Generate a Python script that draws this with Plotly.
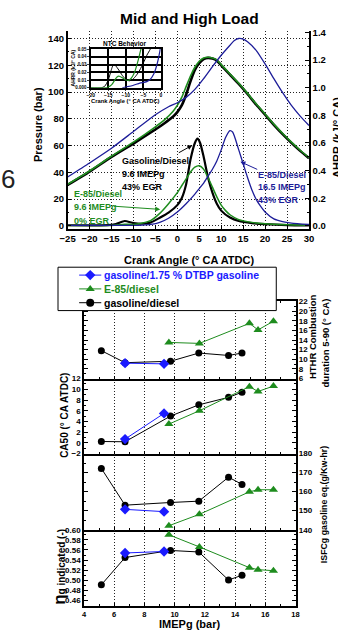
import plotly.graph_objects as go

W, H = 338, 635
def px(x): return x / W
def py(y): return 1 - y / H

FONT = "Liberation Sans, Arial, Helvetica, sans-serif"
C_BLACK = "#000000"
C_GREEN = "#1e8c1e"
C_NAVY = "#1d1d99"
C_BLUE = "#1a1aff"
GRID = "#222222"

# ---------------- top chart: crank-angle resolved data ----------------
crank_ticks = [-25, -20, -15, -10, -5, 0, 5, 10, 15, 20, 25, 30]
press_ticks = [0, 20, 40, 60, 80, 100, 120, 140]
ahrr_ticks = [0.0, 0.2, 0.4, 0.6, 0.8, 1.0, 1.2, 1.4]

p_gd_ca = [-25, -20, -15, -10, -5, -3, -1, 0, 1, 2, 3, 4, 5, 6, 7, 8, 9, 10, 12, 14, 16, 18, 20, 22, 24, 26, 28, 30]
p_gd = [30.5, 40.5, 51.5, 61.5, 72, 76.5, 81.5, 85, 90, 98, 108, 116.5, 121.5, 124.5, 125.5, 125, 123.5, 120, 113, 106, 98.5, 90.5, 83, 75.5, 68.5, 62, 56, 50.5]

p_e85_ca = [-25, -20, -15, -10, -5, -3, -1, 0, 1, 2, 3, 4, 5, 6, 7, 8, 9, 10, 12, 14, 16, 18, 20, 22, 24, 26, 28, 30]
p_e85 = [31, 41, 52, 62.5, 74, 79, 85.5, 90, 96, 104, 112, 118.5, 123, 125.5, 126, 125.5, 124, 120.5, 113.5, 106.5, 99, 91, 83.5, 76, 69, 62.5, 56.5, 51]

p_e85h_ca = [-25, -20, -15, -10, -5, -2, 0, 2, 4, 6, 8, 10, 12, 13, 14, 15, 16, 18, 20, 22, 24, 26, 28, 30]
p_e85h = [36.5, 47, 58, 70.5, 83, 89, 92, 96, 102, 110, 119, 127.5, 135, 138.5, 140, 139.5, 137.5, 131, 121, 110, 99.5, 90, 82, 75]

a_gd_ca = [-25, -16, -14, -12, -10, -8, -6, -4, -2, 0, 1, 2, 3, 4, 4.6, 5.2, 6, 7, 8, 9, 10, 12, 14, 17, 20, 25, 30]
a_gd = [0.004, 0.005, 0.013, 0.035, 0.02, 0.015, 0.025, 0.058, 0.095, 0.15, 0.2, 0.3, 0.48, 0.6, 0.632, 0.6, 0.5, 0.35, 0.24, 0.16, 0.11, 0.06, 0.035, 0.02, 0.012, 0.005, 0.003]

a_e85_ca = [-25, -15, -12, -10, -8, -6, -4, -2, 0, 1, 2, 3, 4, 5, 6, 7, 8, 9, 10, 11, 12, 14, 17, 20, 25, 30]
a_e85 = [0.003, 0.003, 0.012, 0.009, 0.02, 0.04, 0.09, 0.16, 0.24, 0.29, 0.34, 0.39, 0.425, 0.435, 0.41, 0.35, 0.28, 0.21, 0.15, 0.11, 0.08, 0.045, 0.025, 0.015, 0.008, 0.005]

a_e85h_ca = [-25, -10, -8, -6, -4, -2, 0, 2, 4, 5, 6, 7, 8, 9, 10, 11, 12, 12.6, 13, 14, 15, 16, 17, 18, 19, 20, 22, 24, 26, 30]
a_e85h = [0.003, 0.003, 0.005, 0.01, 0.025, 0.055, 0.1, 0.16, 0.23, 0.27, 0.31, 0.36, 0.41, 0.47, 0.55, 0.64, 0.69, 0.68, 0.65, 0.55, 0.45, 0.35, 0.26, 0.19, 0.14, 0.1, 0.05, 0.03, 0.02, 0.01]

# inset (NTC region)
in_ca_ticks = [-20, -15, -10, -5, 0]
in_y_ticks = [0.0, 0.01, 0.02, 0.03, 0.04, 0.05]
in_y_text = ["0.000", "0.01", "0.02", "0.03", "0.04", "0.05"]
in_gd_ca = [-20, -17, -16, -15, -14, -13.5, -13, -12, -11, -10, -9, -8, -7, -6, -5, -4, -3, -2.5]
in_gd = [0, 0, 0.002, 0.01, 0.025, 0.03, 0.029, 0.023, 0.016, 0.011, 0.009, 0.011, 0.016, 0.023, 0.032, 0.042, 0.05, 0.056]
in_e85_ca = [-20, -16, -15, -14, -13, -12.5, -12, -11, -10, -9.3, -8.5, -7.5, -6.5, -5.8, -5.3]
in_e85 = [0, 0, 0.001, 0.004, 0.011, 0.014, 0.015, 0.013, 0.01, 0.0095, 0.012, 0.02, 0.035, 0.048, 0.056]
in_e85h_ca = [-11, -10, -8, -6, -4, -3, -2, -1, -0.3, 0]
in_e85h = [0, 0.001, 0.003, 0.006, 0.008, 0.011, 0.018, 0.032, 0.047, 0.055]

# ---------------- bottom chart: load sweep ----------------
imep_ticks = [4, 6, 8, 10, 12, 14, 16, 18]
imep_gd = [5.15, 6.72, 9.73, 11.6, 13.57, 14.46]
imep_dtbp = [6.72, 9.3]
imep_e85 = [9.62, 11.64, 14.95, 15.52, 16.54]

dur_gd = [11.8, 9.3, 9.6, 11.3, 10.8, 11.3]
dur_dtbp = [9.2, 9.06]
dur_e85 = [13.5, 13.3, 17.45, 16.1, 17.9]

ca50_gd = [0.25, 0.2, 5.0, 7.1, 8.5, 9.45]
ca50_dtbp = [0.7, 5.5]
ca50_e85 = [3.5, 6.0, 10.5, 9.6, 10.6]

isfc_gd = [172.2, 152.9, 154.3, 155.0, 167.6, 163.8]
isfc_dtbp = [150.7, 149.5]
isfc_e85 = [142.1, 148.1, 159.9, 161.0, 161.0]

eta_gd = [0.491, 0.545, 0.559, 0.556, 0.5005, 0.510]
eta_dtbp = [0.554, 0.557]
eta_e85 = [0.590, 0.566, 0.525, 0.521, 0.519]

legend_labels = ["gasoline/1.75 % DTBP gasoline", "E-85/diesel", "gasoline/diesel"]
legend_colors = [C_BLUE, C_GREEN, C_BLACK]
legend_symbols = ["diamond", "triangle-up", "circle"]

fig = go.Figure()

def line(x, y, color, width, xa="x", ya="y"):
    fig.add_trace(go.Scatter(x=x, y=y, mode="lines", xaxis=xa, yaxis=ya,
                             line=dict(color=color, width=width, shape="spline", smoothing=0.6),
                             hoverinfo="skip", showlegend=False))

line(p_gd_ca, p_gd, C_BLACK, 2.6)
line(p_e85_ca, p_e85, C_GREEN, 1.6)
line(p_e85h_ca, p_e85h, C_NAVY, 1.3)
line(a_gd_ca, a_gd, C_BLACK, 2.2, ya="y2")
line(a_e85_ca, a_e85, C_GREEN, 1.5, ya="y2")
line(a_e85h_ca, a_e85h, C_NAVY, 1.3, ya="y2")

line(in_gd_ca, in_gd, C_BLACK, 1.0, xa="x3", ya="y3")
line(in_e85_ca, in_e85, C_GREEN, 1.2, xa="x3", ya="y3")
line(in_e85h_ca, in_e85h, C_NAVY, 1.2, xa="x3", ya="y3")

series = [
    (imep_gd, [dur_gd, ca50_gd, isfc_gd, eta_gd], C_BLACK, "circle", 7),
    (imep_e85, [dur_e85, ca50_e85, isfc_e85, eta_e85], C_GREEN, "triangle-up", 8),
    (imep_dtbp, [dur_dtbp, ca50_dtbp, isfc_dtbp, eta_dtbp], C_BLUE, "diamond", 8),
]
for xs, ys_list, col, sym, sz in series:
    for k, ys in enumerate(ys_list):
        n = 4 + k
        fig.add_trace(go.Scatter(x=xs, y=ys, mode="lines+markers", xaxis=f"x{n}", yaxis=f"y{n}",
                                 line=dict(color=col, width=1),
                                 marker=dict(color=col, symbol=sym, size=sz),
                                 hoverinfo="skip", showlegend=False, cliponaxis=False))

# manual legend (own subplot; its white background covers the panel top)
leg_rows = [275, 289, 303]
for i, lab in enumerate(legend_labels):
    fig.add_trace(go.Scatter(x=[74, 97], y=[leg_rows[i]] * 2, mode="lines", xaxis="x8", yaxis="y8",
                             line=dict(color=legend_colors[i], width=1), hoverinfo="skip", showlegend=False))
    fig.add_trace(go.Scatter(x=[85.5], y=[leg_rows[i]], mode="markers", xaxis="x8", yaxis="y8",
                             marker=dict(color=legend_colors[i], symbol=legend_symbols[i], size=8),
                             hoverinfo="skip", showlegend=False, cliponaxis=False))

tf = lambda s: dict(family=FONT, size=s, color="black", weight="bold")

layout = dict(
    width=W, height=H, autosize=False, margin=dict(l=0, r=0, t=0, b=0),
    paper_bgcolor="white", plot_bgcolor="white", showlegend=False,
    font=dict(family=FONT, color="black"),
    xaxis=dict(domain=[px(62), px(313)], range=[-25, 30], anchor="y", tickmode="array", tickvals=crank_ticks,
               showgrid=True, gridcolor=GRID, griddash="1px,2px", gridwidth=1, showline=True, linecolor="black",
               linewidth=1.5, ticks="inside", ticklen=4, tickcolor="black", tickfont=tf(9.5), zeroline=False,
               layer="above traces"),
    yaxis=dict(domain=[py(228), py(27)], range=[-2.21, 145.9], anchor="x", tickmode="array", tickvals=press_ticks,
               showgrid=True, gridcolor=GRID, griddash="1px,2px", gridwidth=1, showline=True, linecolor="black",
               linewidth=1.5, ticks="inside", ticklen=4, tickcolor="black", tickfont=tf(9.5), zeroline=False,
               minor=dict(ticks="inside", ticklen=2, dtick=10, tick0=0, tickcolor="black")),
    yaxis2=dict(overlaying="y", side="right", anchor="x", range=[-0.0214, 1.414], tickmode="array",
                tickvals=ahrr_ticks, ticktext=[f"{v:.1f}" for v in ahrr_ticks], showgrid=False, showline=True,
                linecolor="black", linewidth=1.5, ticks="inside", ticklen=4, tickcolor="black", tickfont=tf(9.5),
                zeroline=False, minor=dict(ticks="inside", ticklen=2, dtick=0.1, tick0=0, tickcolor="black")),
    xaxis3=dict(domain=[px(86), px(159)], range=[-20, 0], anchor="y3", tickmode="array", tickvals=in_ca_ticks,
                showgrid=True, gridcolor="black", gridwidth=2.2, showline=True, mirror=True, linecolor="black",
                linewidth=1.5, ticks="outside", ticklen=1.5, tickfont=tf(5), zeroline=False, ticklabelstandoff=0),
    yaxis3=dict(domain=[py(85), py(45.7)], range=[0, 0.05], anchor="x3", tickmode="array", tickvals=in_y_ticks,
                ticktext=in_y_text, showgrid=True, gridcolor="black", gridwidth=2.2, showline=True, mirror=True,
                linecolor="black", linewidth=1.5, ticks="outside", ticklen=1.5, tickfont=tf(4.5), zeroline=False,
                ticklabelstandoff=0),
    xaxis8=dict(domain=[px(52), px(279)], range=[52, 279], anchor="y8", visible=False),
    yaxis8=dict(domain=[py(311), py(267)], range=[311, 267], anchor="x8", visible=False),
)

panel_px = [(301.7, 380), (380, 456), (456, 533.3), (533.3, 610.7)]
panel_range = [[6, 22], [-2, 12], [140, 180], [0.449, 0.60]]
panel_dtick = [2, 2, 10, 0.02]
panel_minor = [1, 1, 5, 0.01]
panel_side = ["right", "left", "right", "left"]
panel_tick0 = [6, -2, 140, 0.46]
panel_fmt = ["", "", "", ".2f"]
for k in range(4):
    n = 4 + k
    top, bot = panel_px[k]
    layout[f"xaxis{n}"] = dict(domain=[px(79), px(299)], range=[4, 18], anchor=f"y{n}", tickmode="array",
                               tickvals=imep_ticks, showticklabels=(k == 3), showgrid=True, gridcolor=GRID,
                               griddash="1px,2px", gridwidth=1, showline=True,
                               mirror=("ticks" if k == 0 else False), linecolor="black",
                               linewidth=1.5, ticks="inside", ticklen=3, tickcolor="black", tickfont=tf(7.5),
                               zeroline=False, ticklabelstandoff=0,
                               minor=dict(ticks="inside", ticklen=2, dtick=1, tick0=4, tickcolor="black"))
    layout[f"yaxis{n}"] = dict(domain=[py(bot), py(top)], range=panel_range[k], anchor=f"x{n}", side=panel_side[k],
                               dtick=panel_dtick[k], tick0=panel_tick0[k], tickformat=panel_fmt[k],
                               showgrid=False, showline=True, mirror="ticks", linecolor="black", linewidth=1.5,
                               ticks="inside", ticklen=4, tickcolor="black", tickfont=tf(8), zeroline=False,
                               minor=dict(ticks="inside", ticklen=2, dtick=panel_minor[k], tickcolor="black"))

fig.update_layout(**layout)

fig.add_shape(type="rect", xref="paper", yref="paper", x0=px(52), x1=px(279), y0=py(311), y1=py(267),
              line=dict(color="black", width=1), fillcolor="rgba(0,0,0,0)", layer="above")

ann = []
def txt(x, y, s, size, color="black", angle=0, xanchor="center", bold=True):
    ann.append(dict(x=px(x), y=py(y), xref="paper", yref="paper", text=(f"<b>{s}</b>" if bold else s),
                    showarrow=False, textangle=angle, xanchor=xanchor, yanchor="middle",
                    font=dict(family=FONT, size=size, color=color)))

txt(189, 15, "Mid and High Load", 15.5)
txt(188, 260, "Crank Angle (° CA ATDC)", 11)
txt(32, 122, "Pressure (bar)", 11, angle=-90)
txt(342, 135, "AHRR (kJ/° CA)", 11, angle=-90)
txt(9, 178, "6", 26, color="#222", xanchor="right", bold=False)

txt(121, 40, "NTC Behavior", 6.5)
txt(122, 98, "Crank Angle (° CA ATDC)", 5.8)
txt(68, 65, "AHRR (kJ/° CA)", 5, angle=-90)

for i, s in enumerate(["Gasoline/Diesel", "9.6 IMEPg", "43% EGR"]):
    txt(116, 159.3 + 13 * i, s, 9, xanchor="left")
for i, s in enumerate(["E-85/Diesel", "9.6 IMEPg", "0% EGR"]):
    txt(67, 192.7 + 13.5 * i, s, 9, color=C_GREEN, xanchor="left")
for i, s in enumerate(["E-85/Diesel", "16.5 IMEPg", "43% EGR"]):
    txt(258, 173.3 + 12.7 * i, s, 9, color=C_NAVY, xanchor="left")

for hx, hy, axp, ayp, col in [(3.42, 0.584, -15, 8.4, C_BLACK), (-3.9, 0.119, -48, -3.3, C_GREEN),
                              (14.38, 0.464, 18.3, 8.3, C_NAVY)]:
    ann.append(dict(x=hx, y=hy, xref="x", yref="y2", text="", showarrow=True, ax=axp, ay=ayp,
                    arrowhead=2, arrowsize=1, arrowwidth=1, arrowcolor=col, standoff=0))

for i, lab in enumerate(legend_labels):
    txt(98, leg_rows[i], lab, 10.5, color=legend_colors[i], xanchor="left")

txt(189, 628.5, "IMEPg (bar)", 11)
txt(58, 417, "CA50 (° CA ATDC)", 10, angle=-90)
ann.append(dict(x=px(54), y=py(571), xref="paper", yref="paper", showarrow=False, textangle=-90,
                text="<b><span style='font-size:17px'>η</span>g indicated (-)</b>",
                font=dict(family=FONT, size=10, color="black"), xanchor="center", yanchor="middle"))
txt(316, 337, "HTHR Combustion", 9.5, angle=-90)
txt(330, 344, "duration 5-90 (° CA)", 9.5, angle=-90)
txt(328, 508, "ISFCg gasoline eq.(g/Kw-hr)", 8.8, angle=-90)

fig.update_layout(annotations=ann)
fig.write_html("out.html", config={"displayModeBar": False},
               post_script="document.body.style.margin='0px';document.body.style.overflow='hidden';")
